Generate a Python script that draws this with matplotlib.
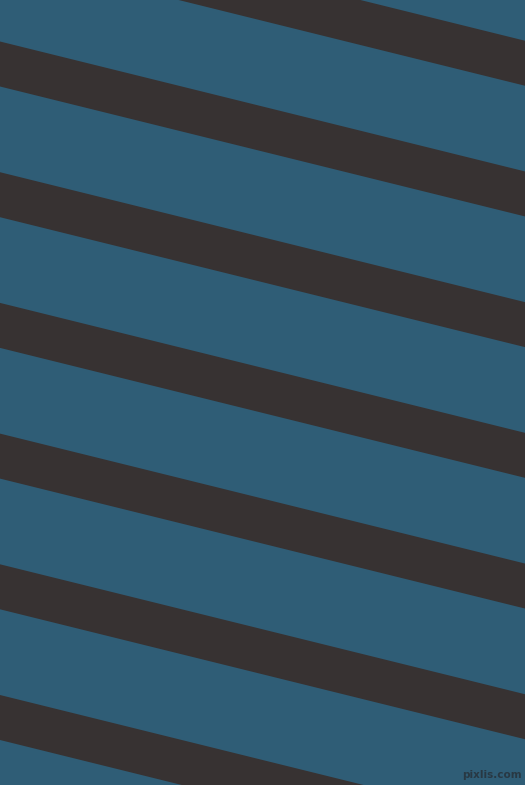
import matplotlib
matplotlib.use("Agg")
import matplotlib.pyplot as plt
import numpy as np

# Stripe geometry (pixel units, y downward)
stripe_tops_at_left = [-89.2, 41.5, 172.2, 302.9, 433.6, 564.3, 695.0]
stripe_thickness = 45.0
stripe_slope = 0.2475
background_color = "#2f5d76"
stripe_color = "#373232"
watermark = "pixlis.com"

W, H = 525, 785
fig = plt.figure(figsize=(W / 100, H / 100), dpi=100)
ax = fig.add_axes([0, 0, 1, 1])
ax.set_xlim(0, W)
ax.set_ylim(H, 0)
ax.set_facecolor(background_color)
fig.patch.set_facecolor(background_color)
ax.axis("off")

xs = np.array([0, W])
for top in stripe_tops_at_left:
    y1 = top + stripe_slope * xs
    ax.fill_between(xs, y1, y1 + stripe_thickness, color=stripe_color, linewidth=0)

ax.text(522, 780, watermark, ha="right", va="bottom", fontsize=7.5,
        color="#283843", fontweight="bold")

fig.savefig("out.png", dpi=100, facecolor=background_color)
